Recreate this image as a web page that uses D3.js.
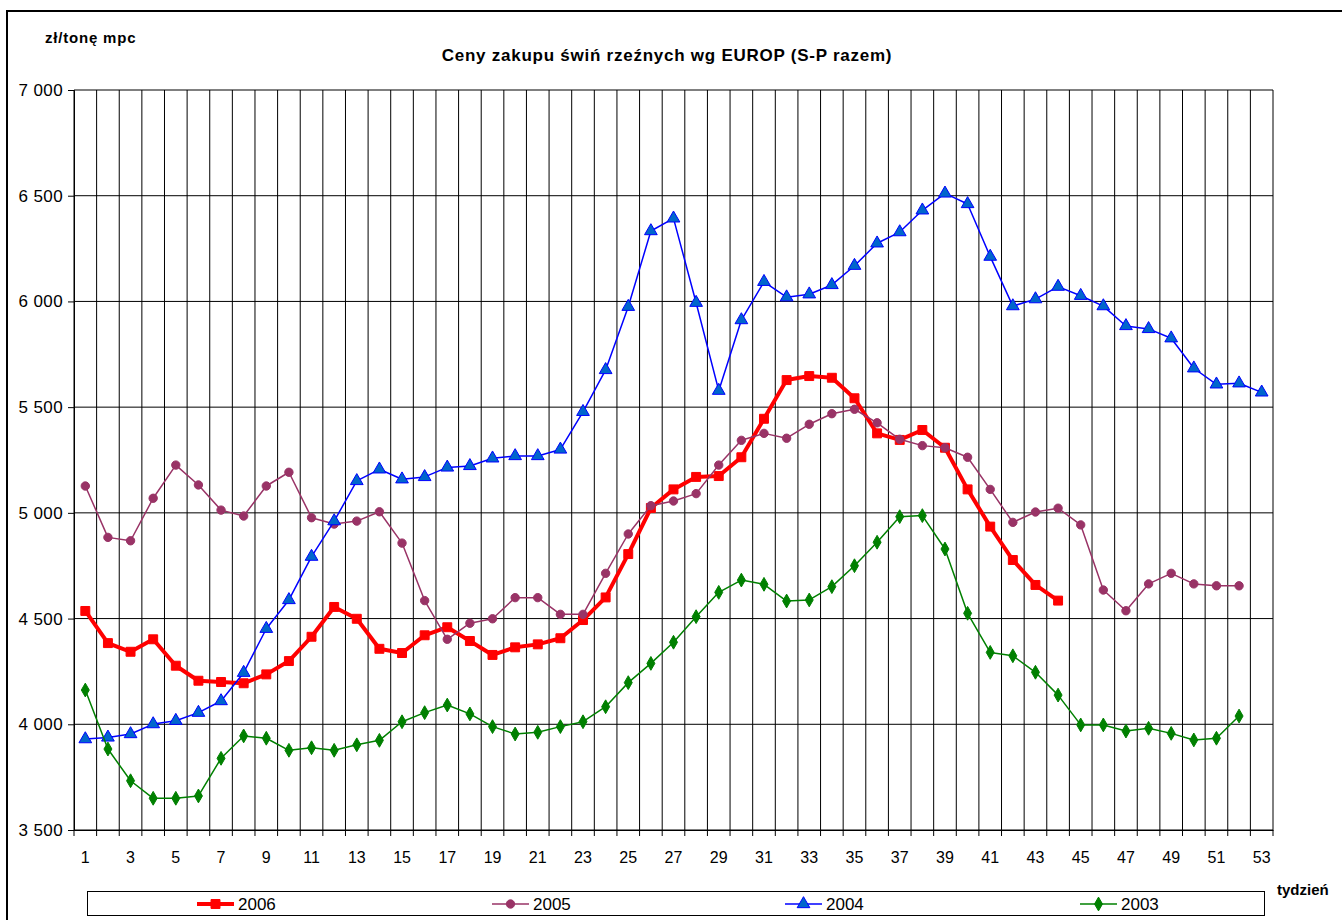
<!DOCTYPE html>
<html><head><meta charset="utf-8">
<script src="https://cdn.jsdelivr.net/npm/d3@7/dist/d3.min.js"></script>
<style>body{margin:0;background:#fff;font-family:"Liberation Sans",Arial,sans-serif}</style>
</head><body><svg id="c" width="1342" height="920"></svg>
<script>
const weeks = d3.range(1, 54);
const yTicks = [3500, 4000, 4500, 5000, 5500, 6000, 6500, 7000];
const s2006 = [4536,4384,4343,4402,4277,4206,4200,4194,4236,4299,4414,4555,4499,4357,4337,4421,4459,4394,4328,4364,4378,4407,4493,4600,4805,5023,5111,5170,5174,5263,5445,5628,5647,5639,5542,5376,5345,5392,5308,5111,4935,4777,4659,4585];
const s2005 = [5127,4884,4868,5069,5226,5132,5013,4985,5127,5192,4977,4947,4961,5005,4857,4585,4402,4478,4499,4599,4599,4520,4520,4714,4900,5034,5056,5091,5226,5343,5376,5353,5419,5469,5490,5426,5348,5318,5308,5263,5111,4955,5004,5022,4943,4635,4537,4664,4714,4664,4655,4655];
const s2004 = [3930,3938,3954,4001,4017,4055,4110,4244,4452,4588,4793,4961,5151,5206,5159,5170,5215,5222,5258,5269,5269,5300,5478,5676,5975,6333,6393,5994,5578,5912,6093,6020,6034,6078,6169,6275,6328,6431,6511,6461,6212,5978,6011,6070,6027,5978,5884,5870,5826,5684,5608,5613,5570];
const s2003 = [4162,3883,3733,3650,3650,3661,3839,3945,3934,3877,3889,3877,3903,3924,4012,4055,4091,4049,3989,3954,3962,3989,4012,4083,4197,4288,4388,4509,4624,4682,4662,4583,4588,4651,4750,4861,4982,4987,4829,4525,4340,4324,4246,4138,3997,3997,3968,3981,3957,3926,3934,4039];
const seriesNames = ["2006", "2005", "2004", "2003"];

const svg = d3.select("#c");
const L = 74, R = 1273, T = 90, B = 830;
const x = d3.scaleBand().domain(weeks).range([L, R]);
const y = d3.scaleLinear().domain([3500, 7000]).range([B, T]);
const fmt = d3.formatLocale({decimal: ",", thousands: " ", grouping: [3], currency: ["", ""]}).format(",");

// outer border
svg.append("rect").attr("x", 7).attr("y", 11).attr("width", 1400).attr("height", 1000)
  .attr("fill", "none").attr("stroke", "#000").attr("stroke-width", 2);

// gridlines
const g = svg.append("g");
g.selectAll("line.h").data(yTicks).join("line")
  .attr("x1", L).attr("x2", R).attr("y1", d => y(d)).attr("y2", d => y(d))
  .attr("stroke", "#000").attr("stroke-width", 1);
const bounds = weeks.map(w => x(w)).concat([R]);
g.selectAll("line.v").data(bounds).join("line")
  .attr("x1", d => d).attr("x2", d => d).attr("y1", T).attr("y2", B + 6)
  .attr("stroke", "#000").attr("stroke-width", 1);

// y axis
const ya = svg.append("g").attr("transform", `translate(${L},0)`)
  .call(d3.axisLeft(y).tickValues(yTicks).tickFormat(fmt).tickSize(6).tickPadding(5));
ya.select(".domain").attr("stroke", "#000");
ya.selectAll("text").attr("font-size", 17).attr("letter-spacing", 0.4)
  .attr("font-family", "Liberation Sans, Arial").attr("fill", "#000");

// x axis labels
const xa = svg.append("g").attr("transform", `translate(0,${B})`)
  .call(d3.axisBottom(x).tickValues(weeks.filter(w => w % 2 === 1)).tickSize(0).tickPadding(22));
xa.select(".domain").attr("stroke", "#000");
xa.selectAll("text").attr("font-size", 16).attr("font-family", "Liberation Sans, Arial").attr("fill", "#000");

// series
const cx = w => x(w) + x.bandwidth() / 2;
const line = d3.line().x((d, i) => cx(weeks[i])).y(d => y(d));
const cfg = [
  {data: s2006, color: "#FF0000", w: 4, sym: d3.symbolSquare, size: 80, fill: "#FF0000", stroke: "#FF0000"},
  {data: s2005, color: "#993366", w: 1.5, sym: d3.symbolCircle, size: 55, fill: "#993366", stroke: "#993366"},
  {data: s2004, color: "#0000FF", w: 1.5, sym: d3.symbolTriangle, size: 70, fill: "#0066CC", stroke: "#0000FF"},
  {data: s2003, color: "#008000", w: 1.5, sym: d3.symbolDiamond, size: 55, fill: "#008000", stroke: "#008000"}
];
cfg.forEach(c => {
  svg.append("path").attr("d", line(c.data)).attr("fill", "none")
    .attr("stroke", c.color).attr("stroke-width", c.w).attr("stroke-linejoin", "round");
  svg.append("g").selectAll("path").data(c.data).join("path")
    .attr("transform", (d, i) => `translate(${cx(weeks[i])},${y(d)})`)
    .attr("d", d3.symbol().type(c.sym).size(c.size))
    .attr("fill", c.fill).attr("stroke", c.stroke).attr("stroke-width", 1);
});

// titles
svg.append("text").attr("x", 667).attr("y", 61).attr("text-anchor", "middle")
  .attr("font-size", 17).attr("letter-spacing", 0.75).attr("font-weight", "bold")
  .text("Ceny zakupu świń rzeźnych wg EUROP (S-P razem)");
svg.append("text").attr("x", 45).attr("y", 43)
  .attr("font-size", 15).attr("letter-spacing", 0.8).attr("font-weight", "bold").text("zł/tonę mpc");
svg.append("text").attr("x", 1277).attr("y", 895)
  .attr("font-size", 15).attr("font-weight", "bold").text("tydzień");

// legend
svg.append("rect").attr("x", 87.5).attr("y", 891.5).attr("width", 1177).attr("height", 24)
  .attr("fill", "#fff").attr("stroke", "#000").attr("stroke-width", 1);
const lx = [197, 492, 785, 1080];
cfg.forEach((c, i) => {
  const lg = svg.append("g").attr("transform", `translate(${lx[i]},904)`);
  lg.append("line").attr("x1", 0).attr("x2", 37).attr("stroke", c.color).attr("stroke-width", c.w);
  lg.append("path").attr("transform", "translate(18.5,0)")
    .attr("d", d3.symbol().type(c.sym).size(c.size)).attr("fill", c.fill).attr("stroke", c.stroke);
  lg.append("text").attr("x", 41).attr("y", 6).attr("font-size", 17).text(seriesNames[i]);
});
</script></body></html>
